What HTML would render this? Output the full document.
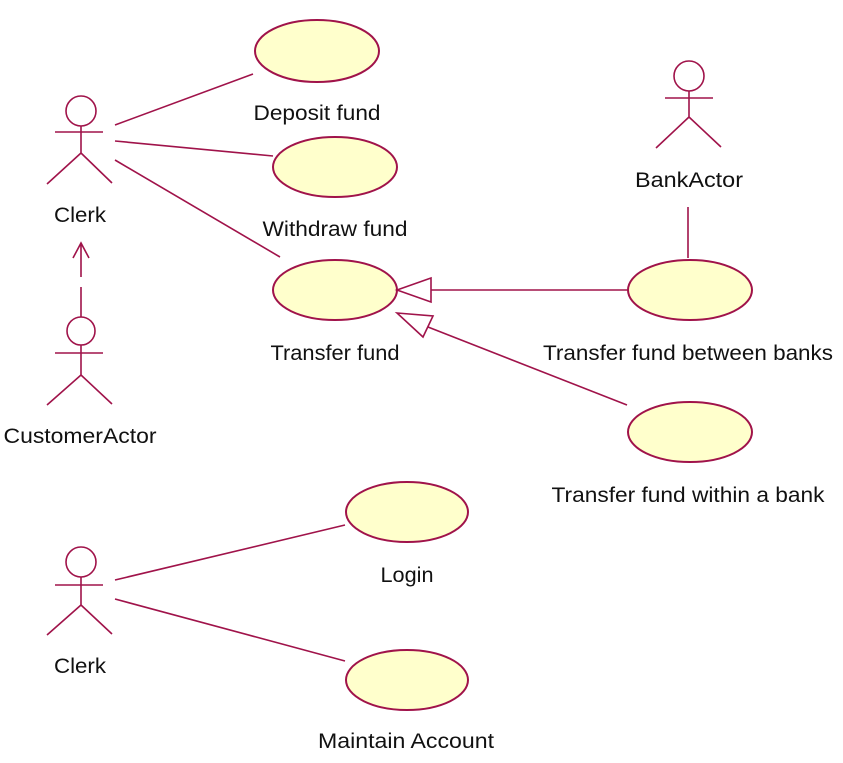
<!DOCTYPE html>
<html><head><style>html,body{margin:0;padding:0;background:#fff}svg{display:block}</style></head>
<body>
<svg width="843" height="763" viewBox="0 0 843 763" xmlns="http://www.w3.org/2000/svg">
<g fill="#ffffcc" stroke="#a0134a" stroke-width="2">
<ellipse cx="317" cy="51" rx="62" ry="31"/>
<ellipse cx="335" cy="167" rx="62" ry="30"/>
<ellipse cx="335" cy="290" rx="62" ry="30"/>
<ellipse cx="690" cy="290" rx="62" ry="30"/>
<ellipse cx="690" cy="432" rx="62" ry="30"/>
<ellipse cx="407" cy="512" rx="61" ry="30"/>
<ellipse cx="407" cy="680" rx="61" ry="30"/>
</g>
<g fill="none" stroke="#a0134a" stroke-width="1.6">
<circle cx="81" cy="111" r="15"/>
<path d="M55 132H103M81 126V153M81 153L47 184M81 153L112 183"/>
<circle cx="81" cy="331" r="14"/>
<path d="M55 353H103M81 345V375M81 375L47 405M81 375L112 404"/>
<path d="M81 317V287M81 277V244M73 258L81 243L89 258"/>
<circle cx="689" cy="76" r="15"/>
<path d="M665 98H713M689 91V117M689 117L656 148M689 117L721 147M688 207V258"/>
<circle cx="81" cy="562" r="15"/>
<path d="M55 585H103M81 577V605M81 605L47 635M81 605L112 634"/>
<path d="M115 125L253 74M115 141L273 156M115 160L280 257M115 580L345 525M115 599L345 661"/>
<path d="M628 290H431"/>
<path d="M397 290L431 278V302Z"/>
<path d="M627 405L428 327"/>
<path d="M397 313L433 316L423 337Z"/>
</g>
<g font-family="Liberation Sans, Arial, sans-serif" font-size="21" fill="#111" text-anchor="middle">
<text x="317" y="120" textLength="127" lengthAdjust="spacingAndGlyphs">Deposit fund</text>
<text x="335" y="236" textLength="145" lengthAdjust="spacingAndGlyphs">Withdraw fund</text>
<text x="335" y="360" textLength="129" lengthAdjust="spacingAndGlyphs">Transfer fund</text>
<text x="80" y="222" textLength="52" lengthAdjust="spacingAndGlyphs">Clerk</text>
<text x="80" y="443" textLength="153" lengthAdjust="spacingAndGlyphs">CustomerActor</text>
<text x="689" y="187" textLength="108" lengthAdjust="spacingAndGlyphs">BankActor</text>
<text x="688" y="360" textLength="290" lengthAdjust="spacingAndGlyphs">Transfer fund between banks</text>
<text x="688" y="502" textLength="273" lengthAdjust="spacingAndGlyphs">Transfer fund within a bank</text>
<text x="407" y="582" textLength="53" lengthAdjust="spacingAndGlyphs">Login</text>
<text x="406" y="748" textLength="176" lengthAdjust="spacingAndGlyphs">Maintain Account</text>
<text x="80" y="673" textLength="52" lengthAdjust="spacingAndGlyphs">Clerk</text>
</g>
</svg>
</body></html>
